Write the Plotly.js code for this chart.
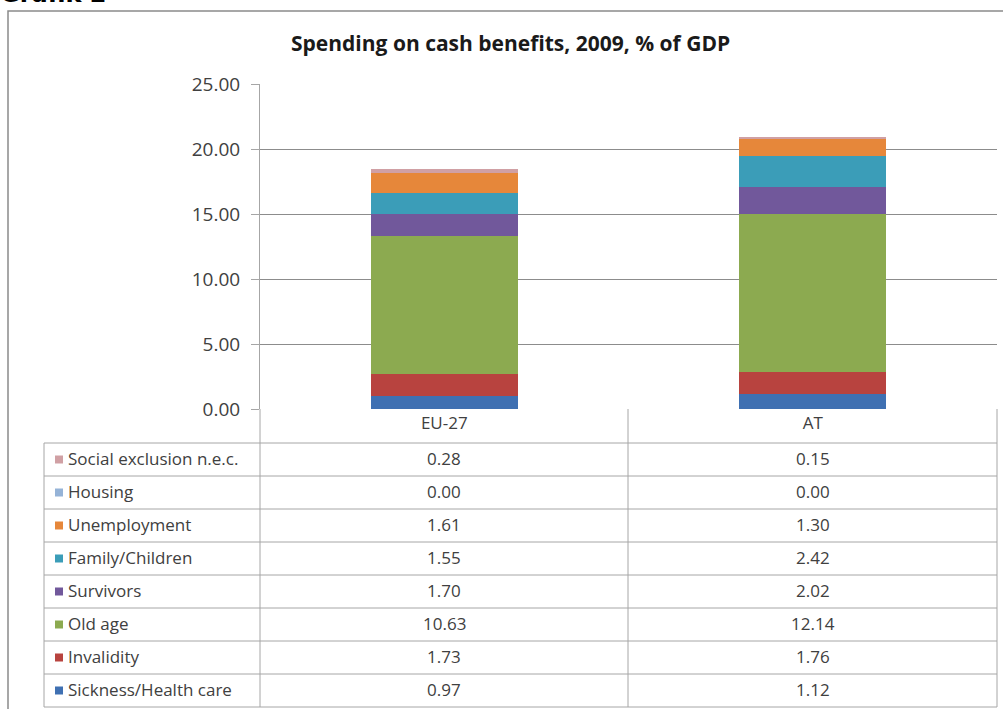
<!DOCTYPE html>
<html>
<head>
<meta charset="utf-8">
<script src="https://cdn.plot.ly/plotly-3.0.1.min.js"></script>
<style>html,body{margin:0;padding:0;background:#fff;} #chart{width:1003px;height:709px;}</style>
</head>
<body>
<div id="chart"></div>
<script>
// ---- data ----
const categories = ['EU-27', 'AT'];
const seriesNames = ['Sickness/Health care', 'Invalidity', 'Old age', 'Survivors',
  'Family/Children', 'Unemployment', 'Housing', 'Social exclusion n.e.c.'];
const euValues = [0.97, 1.73, 10.63, 1.70, 1.55, 1.61, 0.00, 0.28];
const atValues = [1.12, 1.76, 12.14, 2.02, 2.42, 1.30, 0.00, 0.15];
const seriesColors = ['#3f70b2', '#b8433f', '#8caa50', '#71589b', '#3b9db8', '#e6873a', '#95b3d7', '#d0a0a4'];
const yTickValues = [0, 5, 10, 15, 20, 25];
const chartTitle = 'Spending on cash benefits, 2009, % of GDP';
const pageLabel = 'Grafik 2';

// ---- geometry (pixels) ----
const W = 1003, H = 709;
const PL = 260, PR = 997, PT = 84, PB = 409;
const px = x => (x - PL) / (PR - PL);
const py = y => (PB - y) / (PB - PT);
const FONT = '"Open Sans", Lato, sans-serif';
const TXT = '#404040';
const LINE = '#a6a6a6';

const traces = seriesNames.map((name, i) => ({
  type: 'bar',
  name: name,
  x: categories,
  y: [euValues[i], atValues[i]],
  marker: {color: seriesColors[i], line: {width: 0}},
  showlegend: false,
  hoverinfo: 'x+y+name'
}));

const shapes = [];
const annotations = [];

// outer chart border
shapes.push({type: 'rect', xref: 'paper', yref: 'paper',
  x0: px(8), x1: px(1012), y0: py(11), y1: py(720),
  line: {color: '#8a8a8a', width: 1.5}, fillcolor: 'rgba(0,0,0,0)', layer: 'below'});

// table
const rowTop = 443, rowH = 33;
const nRows = seriesNames.length;
const tableBottom = rowTop + rowH * nRows;
for (let k = 0; k <= nRows; k++) {
  const y = rowTop + rowH * k;
  shapes.push({type: 'line', xref: 'paper', yref: 'paper', x0: px(44), x1: px(PR), y0: py(y), y1: py(y),
    line: {color: LINE, width: 1}});
}
[[44, rowTop], [PL, PB], [628, PB], [PR, PB]].forEach(([x, y0]) => {
  shapes.push({type: 'line', xref: 'paper', yref: 'paper', x0: px(x), x1: px(x), y0: py(y0), y1: py(tableBottom),
    line: {color: LINE, width: 1}});
});

// table rows: top row = last series
for (let k = 0; k < nRows; k++) {
  const s = nRows - 1 - k;
  const yc = rowTop + rowH * k + rowH / 2;
  shapes.push({type: 'rect', xref: 'paper', yref: 'paper',
    x0: px(55), x1: px(63), y0: py(yc - 4), y1: py(yc + 4),
    line: {width: 0}, fillcolor: seriesColors[s]});
  annotations.push({xref: 'paper', yref: 'paper', x: px(66), y: py(yc - 1), xanchor: 'left', yanchor: 'middle',
    text: seriesNames[s], showarrow: false, font: {family: FONT, size: 17, color: TXT}});
  [euValues, atValues].forEach((vals, c) => {
    annotations.push({xref: 'x', yref: 'paper', x: categories[c], y: py(yc - 1), xanchor: 'center', yanchor: 'middle',
      text: vals[s].toFixed(2), showarrow: false, font: {family: FONT, size: 17, color: TXT}});
  });
}

// title
annotations.push({xref: 'paper', yref: 'paper', x: px(510), y: py(43), xanchor: 'center', yanchor: 'middle',
  text: '<b>' + chartTitle + '</b>', showarrow: false, font: {family: FONT, size: 21, color: '#1a1a1a'}});
// page label (cut off at top)
annotations.push({xref: 'paper', yref: 'paper', x: px(-2), y: py(10), xanchor: 'left', yanchor: 'bottom',
  text: '<b>' + pageLabel + '</b>', showarrow: false, font: {family: '"DejaVu Sans", sans-serif', size: 24, color: '#000'}});

const layout = {
  width: W, height: H,
  margin: {l: PL, r: W - PR, t: PT, b: H - PB, pad: 0},
  paper_bgcolor: '#ffffff', plot_bgcolor: '#ffffff',
  barmode: 'stack', bargap: 0.6,
  font: {family: FONT, color: TXT},
  xaxis: {type: 'category', showgrid: false, zeroline: false, showline: false, ticks: '',
    tickfont: {family: FONT, size: 17, color: TXT}, ticklabelstandoff: 2},
  yaxis: {range: [0, 25], tickvals: yTickValues, tickformat: '.2f', showline: true, linecolor: LINE, linewidth: 1,
    ticks: 'outside', ticklen: 8, tickcolor: LINE, gridcolor: '#8c8c8c', gridwidth: 1, zeroline: false,
    tickfont: {family: FONT, size: 19, color: TXT}, ticklabelstandoff: 7},
  shapes: shapes,
  annotations: annotations
};

Plotly.newPlot('chart', traces, layout, {displayModeBar: false, staticPlot: true});
</script>
</body>
</html>
